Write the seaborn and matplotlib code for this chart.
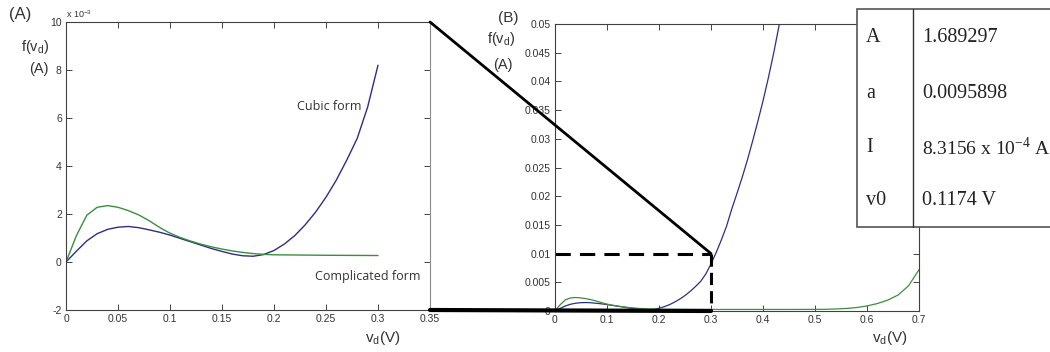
import numpy as np
import pandas as pd
import seaborn as sns
import matplotlib.pyplot as plt
from matplotlib.patches import ConnectionPatch, Rectangle
from matplotlib.lines import Line2D

# ---------------- data ----------------
# cubic form f(vd), A
cubic_v = [0.00, 0.01, 0.02, 0.03, 0.04, 0.05, 0.06, 0.07, 0.08, 0.09,
           0.10, 0.11, 0.12, 0.13, 0.14, 0.15, 0.16, 0.17, 0.18, 0.19,
           0.20, 0.21, 0.22, 0.23, 0.24, 0.25, 0.26, 0.27, 0.28, 0.29,
           0.30, 0.31, 0.32, 0.33, 0.34, 0.35, 0.36, 0.37, 0.38, 0.39,
           0.40, 0.41, 0.42, 0.43, 0.44]
cubic_f = [0.0, 0.45e-3, 0.88e-3, 1.18e-3, 1.36e-3, 1.45e-3, 1.48e-3, 1.43e-3, 1.34e-3, 1.24e-3,
           1.12e-3, 0.98e-3, 0.84e-3, 0.70e-3, 0.56e-3, 0.44e-3, 0.33e-3, 0.26e-3, 0.24e-3, 0.31e-3,
           0.48e-3, 0.75e-3, 1.10e-3, 1.55e-3, 2.08e-3, 2.70e-3, 3.42e-3, 4.25e-3, 5.15e-3, 6.45e-3,
           8.20e-3, 10.2e-3, 12.4e-3, 14.8e-3, 17.8e-3, 20.5e-3, 23.3e-3, 26.3e-3, 29.6e-3, 33.0e-3,
           36.6e-3, 40.5e-3, 44.7e-3, 49.3e-3, 54.3e-3]

# complicated form f(vd), A
comp_v = [0.00, 0.01, 0.02, 0.03, 0.04, 0.05, 0.06, 0.07, 0.08, 0.09,
          0.10, 0.11, 0.12, 0.13, 0.14, 0.15, 0.16, 0.17, 0.18, 0.19,
          0.20, 0.25, 0.30, 0.35, 0.40, 0.45, 0.50, 0.52, 0.54, 0.56,
          0.58, 0.60, 0.62, 0.64, 0.66, 0.68, 0.70]
comp_f = [0.0, 1.10e-3, 1.95e-3, 2.28e-3, 2.35e-3, 2.28e-3, 2.14e-3, 1.96e-3, 1.72e-3, 1.44e-3,
          1.20e-3, 1.02e-3, 0.87e-3, 0.74e-3, 0.63e-3, 0.54e-3, 0.46e-3, 0.40e-3, 0.35e-3, 0.32e-3,
          0.30e-3, 0.28e-3, 0.27e-3, 0.27e-3, 0.27e-3, 0.27e-3, 0.28e-3, 0.30e-3, 0.35e-3, 0.44e-3,
          0.60e-3, 0.88e-3, 1.30e-3, 1.90e-3, 2.80e-3, 4.40e-3, 7.20e-3]

param_names = ['A', 'a', 'I', 'v0']
param_values = ['1.689297', '0.0095898', '8.3156 x 10$^{\\mathrm{-4}}$ A', '0.1174 V']

zoom_v, zoom_f = 0.3, 0.01   # corner of the zoomed window

cubic = pd.DataFrame({'v': cubic_v, 'f': cubic_f})
comp = pd.DataFrame({'v': comp_v, 'f': comp_f})

# ---------------- style ----------------
sns.set_style('white')
plt.rcParams['font.family'] = ['Liberation Sans', 'DejaVu Sans']
plt.rcParams['mathtext.fontset'] = 'custom'
plt.rcParams['mathtext.rm'] = 'Liberation Serif'
plt.rcParams['mathtext.sf'] = 'Liberation Sans'
plt.rcParams['mathtext.it'] = 'Liberation Sans:italic'

blue = '#2e2e85'
green = '#3a8f3e'
txt = '#333333'

W, H = 1050, 352
fig = plt.figure(figsize=(W / 100, H / 100), dpi=100)
ax1 = fig.add_axes([66 / W, 1 - 310 / H, 364 / W, 288 / H])
ax2 = fig.add_axes([555 / W, 1 - 311 / H, 364 / W, 287 / H])

for ax in (ax1, ax2):
    ax.tick_params(direction='in', top=True, right=True, bottom=True, left=True,
                   length=4, width=0.6, labelsize=7.5, labelcolor=txt, pad=3)
    for s in ax.spines.values():
        s.set_color('#404040')
        s.set_linewidth(0.8)
ax1.spines['right'].set_color('#8a8a8a')

# ---------------- (A) full view, in units of 1e-3 A ----------------
left = cubic[cubic.v <= 0.3001].assign(f=lambda d: d.f * 1e3)
sns.lineplot(data=left, x='v', y='f', ax=ax1, color=blue, lw=1.0, estimator=None)
lc = comp[comp.v <= 0.3001].assign(f=lambda d: d.f * 1e3)
sns.lineplot(data=lc, x='v', y='f', ax=ax1, color=green, lw=1.0, estimator=None)
ax1.set_xlim(0, 0.35)
ax1.set_ylim(-2, 10)
xt = np.arange(0, 0.351, 0.05)
ax1.set_xticks(xt, [f'{t:g}' for t in xt])
yt = np.arange(-2, 11, 2)
ax1.set_yticks(yt, [f'{t:g}' for t in yt])
ax1.set_xlabel('')
ax1.set_ylabel('')
ax1.text(0.222, 6.5, 'Cubic form', fontsize=9, family='Open Sans', color=txt, va='center')
ax1.text(0.239, -0.62, 'Complicated form', fontsize=9, family='Open Sans', color=txt, va='center')

# ---------------- (B) zoomed view ----------------
sns.lineplot(data=cubic, x='v', y='f', ax=ax2, color=blue, lw=0.9, estimator=None)
sns.lineplot(data=comp, x='v', y='f', ax=ax2, color=green, lw=0.9, estimator=None)
ax2.set_xlim(0, 0.7)
ax2.set_ylim(0, 0.05)
xt2 = np.arange(0, 0.701, 0.1)
ax2.set_xticks(xt2, [f'{t:g}' for t in xt2])
yt2 = np.arange(0, 0.0501, 0.005)
ax2.set_yticks(yt2, [f'{round(t, 3):g}' for t in yt2])
ax2.set_xlabel('')
ax2.set_ylabel('')
ax2.plot([0, zoom_v], [zoom_f, zoom_f], color='black', lw=2.2, dashes=(5, 3), clip_on=False)
ax2.plot([zoom_v, zoom_v], [zoom_f, 0], color='black', lw=2.2, dashes=(4, 2), clip_on=False)

# connector lines between the panels
fig.add_artist(ConnectionPatch(xyA=(0.35, 10), coordsA=ax1.transData,
                               xyB=(zoom_v, zoom_f), coordsB=ax2.transData,
                               color='black', lw=2))
fig.add_artist(ConnectionPatch(xyA=(0.35, -2), coordsA=ax1.transData,
                               xyB=(zoom_v, 0), coordsB=ax2.transData,
                               color='black', lw=3))

# ---------------- labels ----------------
fig.text(20 / W, 1 - 15 / H, '(A)', fontsize=12, color=txt, ha='center', va='center')
fig.text(35 / W, 1 - 47 / H, 'f(v$_\\mathsf{d}$)', fontsize=10.5, color=txt, ha='center', va='center')
fig.text(39 / W, 1 - 69 / H, '(A)', fontsize=10.5, color=txt, ha='center', va='center')
fig.text(66 / W, 1 - 14 / H, 'x 10$^{\\mathsf{-3}}$', fontsize=6.5, color=txt, ha='left', va='center')
fig.text(383 / W, 1 - 338 / H, 'v$_\\mathsf{d}$(V)', fontsize=11, color=txt, ha='center', va='center')

fig.text(508 / W, 1 - 18 / H, '(B)', fontsize=11, color=txt, ha='center', va='center')
fig.text(501 / W, 1 - 39 / H, 'f(v$_\\mathsf{d}$)', fontsize=10.5, color=txt, ha='center', va='center')
fig.text(503 / W, 1 - 65 / H, '(A)', fontsize=10.5, color=txt, ha='center', va='center')
fig.text(890 / W, 1 - 338 / H, 'v$_\\mathsf{d}$(V)', fontsize=11, color=txt, ha='center', va='center')

# ---------------- parameter table ----------------
fig.add_artist(Rectangle((857 / W, 1 - 227 / H), 210 / W, 218 / H, transform=fig.transFigure,
                         facecolor='white', edgecolor='#555555', lw=1.2, zorder=2))
fig.add_artist(Line2D([913 / W, 913 / W], [1 - 9 / H, 1 - 227 / H], transform=fig.transFigure,
                      color='#333333', lw=1.0, zorder=3))
rows_y = [38, 93, 147, 200]
for name, val, y in zip(param_names, param_values, rows_y):
    fig.text(866 / W, 1 - y / H, name, fontsize=14.5, family='Liberation Serif',
             color='#222222', va='center', zorder=4)
    fig.text(922 / W, 1 - y / H, val, fontsize=14 if 'x' in val else 14.5,
             family='Liberation Serif', color='#222222', va='center', zorder=4)

plt.savefig('out.png', dpi=100)
